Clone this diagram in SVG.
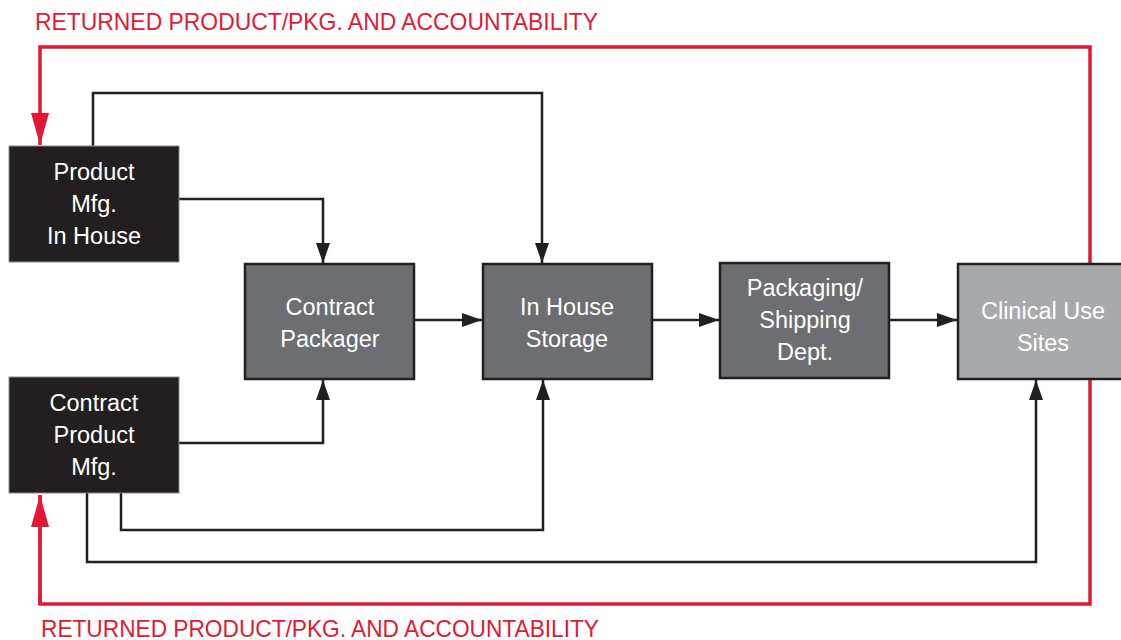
<svg xmlns="http://www.w3.org/2000/svg" width="1121" height="640" viewBox="0 0 1121 640">
  <style>
    .lbl { font-family: "Liberation Sans", Arial, sans-serif; font-size: 23.5px; fill: #ffffff; text-anchor: middle; }
    .ret { font-family: "Liberation Sans", Arial, sans-serif; font-size: 24px; fill: #e31837; }
    .blk { fill: #231f20; stroke: #8a8a8a; stroke-width: 1; }
    .mid { fill: #6d6e71; stroke: #231f20; stroke-width: 2.5; }
    .lt  { fill: #a7a9ac; stroke: #231f20; stroke-width: 2.5; }
    .ln  { fill: none; stroke: #231f20; stroke-width: 2.5; }
    .red { fill: none; stroke: #e31837; stroke-width: 3.5; }
  </style>
  <defs>
    <marker id="ah" markerUnits="userSpaceOnUse" markerWidth="20" markerHeight="14" refX="20" refY="7" orient="auto">
      <path d="M0,0 L20,7 L0,14 Z" fill="#231f20"/>
    </marker>
    <marker id="ahr" markerUnits="userSpaceOnUse" markerWidth="32" markerHeight="18" refX="32" refY="9" orient="auto">
      <path d="M0,0 L32,9 L0,18 Z" fill="#e31837"/>
    </marker>
  </defs>

  <rect width="1121" height="640" fill="#ffffff"/>

  <!-- return loop -->
  <g id="returns">
    <polyline class="red" points="40,495 40,604 1090,604 1090,47 40,47 40,145" marker-end="url(#ahr)"/>
    <path class="red" d="M40,604 L40,495" marker-end="url(#ahr)"/>
    <text class="ret" x="35" y="30" textLength="563" lengthAdjust="spacingAndGlyphs">RETURNED PRODUCT/PKG. AND ACCOUNTABILITY</text>
    <text class="ret" x="41" y="637" textLength="558" lengthAdjust="spacingAndGlyphs">RETURNED PRODUCT/PKG. AND ACCOUNTABILITY</text>
  </g>

  <!-- connectors -->
  <g id="connectors">
    <polyline class="ln" points="93,146 93,93 542,93 542,263" marker-end="url(#ah)"/>
    <polyline class="ln" points="179,199 323,199 323,263" marker-end="url(#ah)"/>
    <polyline class="ln" points="179,443 323,443 323,380" marker-end="url(#ah)"/>
    <polyline class="ln" points="121,493 121,530 543,530 543,380" marker-end="url(#ah)"/>
    <polyline class="ln" points="87,493 87,562 1036,562 1036,380" marker-end="url(#ah)"/>
    <line class="ln" x1="414" y1="320" x2="482" y2="320" marker-end="url(#ah)"/>
    <line class="ln" x1="652" y1="320" x2="719" y2="320" marker-end="url(#ah)"/>
    <line class="ln" x1="889" y1="320" x2="957" y2="320" marker-end="url(#ah)"/>
  </g>

  <g id="product-mfg-in-house">
    <rect class="blk" x="9" y="146" width="170" height="116"/>
    <text class="lbl" x="94" y="180">Product</text>
    <text class="lbl" x="94" y="212">Mfg.</text>
    <text class="lbl" x="94" y="244">In House</text>
  </g>

  <g id="contract-product-mfg">
    <rect class="blk" x="9" y="377" width="170" height="116"/>
    <text class="lbl" x="94" y="411">Contract</text>
    <text class="lbl" x="94" y="443">Product</text>
    <text class="lbl" x="94" y="475">Mfg.</text>
  </g>

  <g id="contract-packager">
    <rect class="mid" x="245" y="264" width="169" height="115"/>
    <text class="lbl" x="330" y="315">Contract</text>
    <text class="lbl" x="330" y="347">Packager</text>
  </g>

  <g id="in-house-storage">
    <rect class="mid" x="483" y="264" width="169" height="115"/>
    <text class="lbl" x="567" y="315">In House</text>
    <text class="lbl" x="567" y="347">Storage</text>
  </g>

  <g id="packaging-shipping">
    <rect class="mid" x="720" y="263" width="169" height="115"/>
    <text class="lbl" x="805" y="296">Packaging/</text>
    <text class="lbl" x="805" y="328">Shipping</text>
    <text class="lbl" x="805" y="360">Dept.</text>
  </g>

  <g id="clinical-use-sites">
    <rect class="lt" x="958" y="264" width="170" height="115"/>
    <text class="lbl" x="1043" y="319">Clinical Use</text>
    <text class="lbl" x="1043" y="351">Sites</text>
  </g>
</svg>
